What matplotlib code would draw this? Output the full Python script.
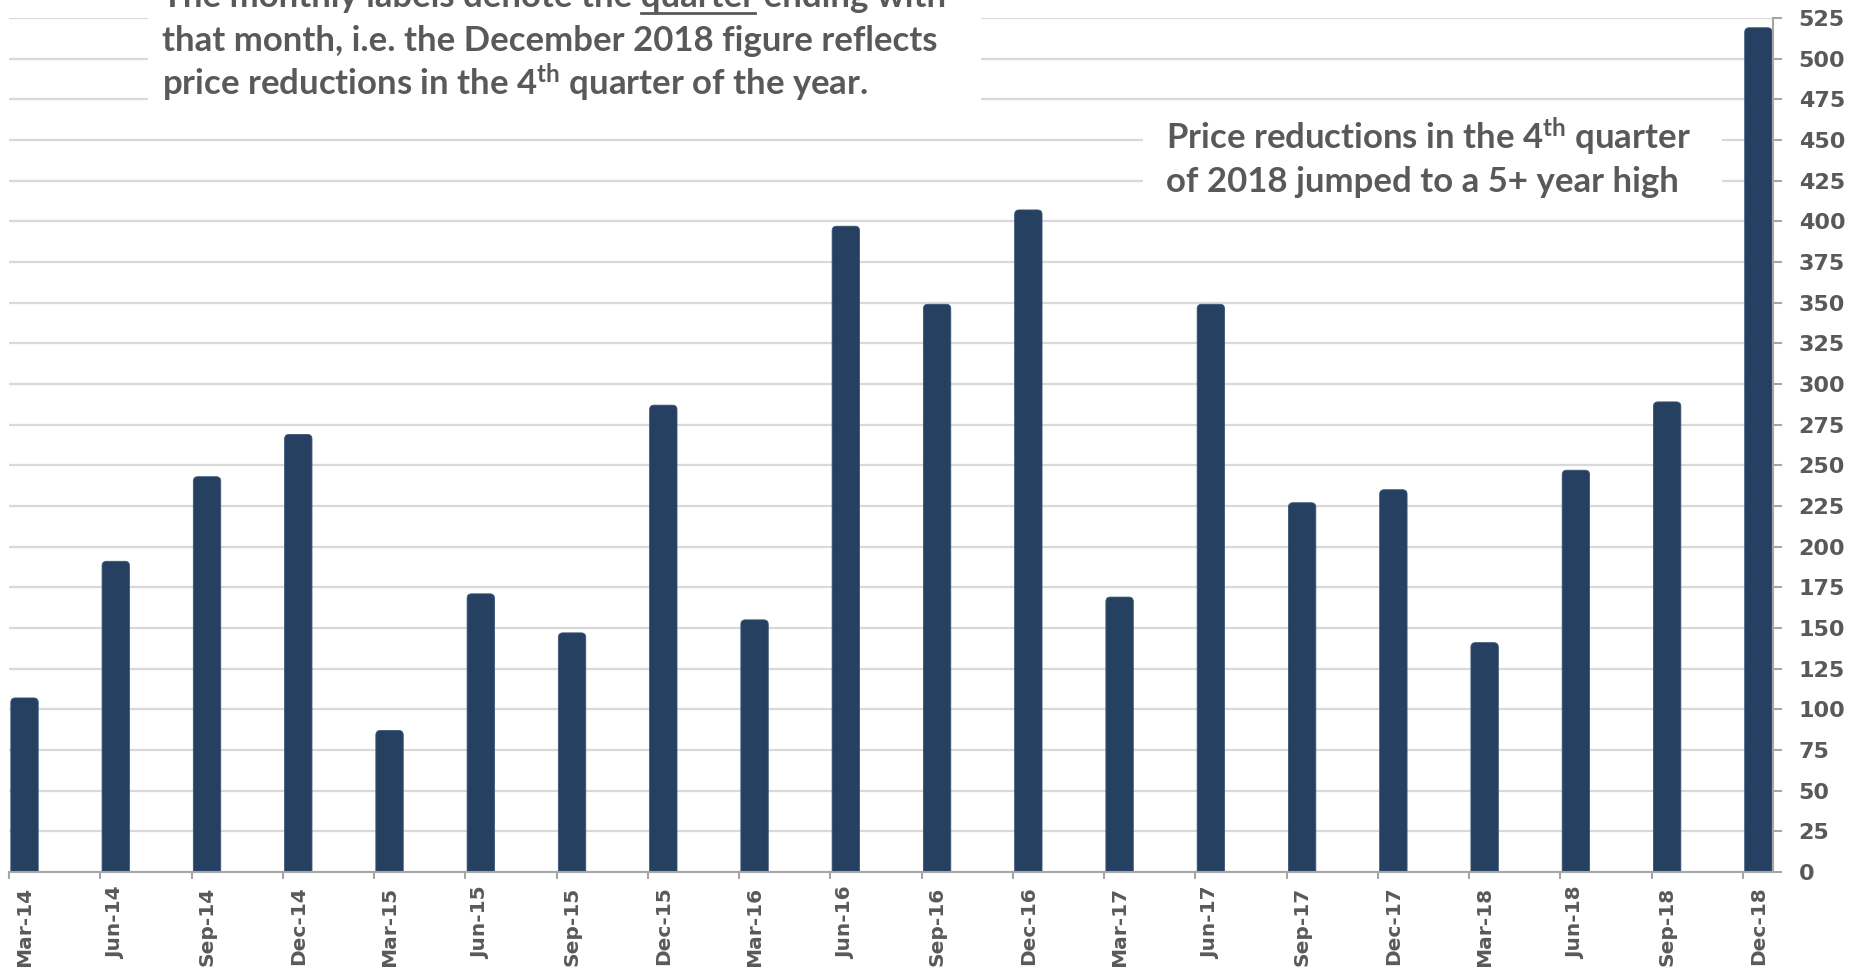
import matplotlib
matplotlib.use("Agg")
import matplotlib.pyplot as plt
from matplotlib.patches import Rectangle, FancyBboxPatch
from matplotlib.lines import Line2D
import numpy as np

# ---- data -------------------------------------------------------------
quarters = ["Mar-14", "Jun-14", "Sep-14", "Dec-14",
            "Mar-15", "Jun-15", "Sep-15", "Dec-15",
            "Mar-16", "Jun-16", "Sep-16", "Dec-16",
            "Mar-17", "Jun-17", "Sep-17", "Dec-17",
            "Mar-18", "Jun-18", "Sep-18", "Dec-18"]
price_reductions = [107, 191, 243, 269, 87, 171, 147, 287, 155, 397,
                    349, 407, 169, 349, 227, 235, 141, 247, 289, 519]
y_ticks = list(range(0, 526, 25))

note_lines = ["The monthly labels denote the quarter ending with",
              "that month, i.e. the December 2018 figure reflects",
              "price reductions in the 4$^{\\mathrm{th}}$ quarter of the year."]
underlined_word = "quarter"
callout_lines = ["Price reductions in the 4$^{\\mathrm{th}}$ quarter",
                 "of 2018 jumped to a 5+ year high"]

# ---- style ------------------------------------------------------------
BAR = "#264061"
TXT = "#595959"
AXIS = "#A6A6A6"
GRID = "#D9D9D9"

plt.rcParams["font.family"] = ["DejaVu Sans"]
plt.rcParams["font.weight"] = "bold"
plt.rcParams["mathtext.fontset"] = "custom"
plt.rcParams["mathtext.rm"] = "Lato:bold"
plt.rcParams["mathtext.it"] = "Lato:bold"
plt.rcParams["mathtext.bf"] = "Lato:bold"

W, H = 1856, 967
fig = plt.figure(figsize=(W / 100, H / 100), dpi=100)
fig.patch.set_facecolor("white")

ax_left, ax_right, ax_top, ax_bot = 9, 1773, 18, 872
ax = fig.add_axes([ax_left / W, 1 - ax_bot / H,
                   (ax_right - ax_left) / W, (ax_bot - ax_top) / H])

n = len(quarters)
x = np.arange(n)
bar_off, bar_w = 0.02, 0.30

ax.set_xlim(0, n - 1 + 0.33)
ax.set_ylim(0, 525)

# bars with slightly rounded tops
bars = ax.bar(x + bar_off, price_reductions, width=bar_w, align="edge",
              color=BAR, zorder=2)
fig.canvas.draw()
px_x = ax.transData.transform((1, 0))[0] - ax.transData.transform((0, 0))[0]
px_y = ax.transData.transform((0, 1))[1] - ax.transData.transform((0, 0))[1]
r_px = 4.5
for rect in bars:
    x0, w, h = rect.get_x(), rect.get_width(), rect.get_height()
    rect.set_visible(False)
    ext = r_px / px_y
    fb = FancyBboxPatch((x0, -ext), w, h + ext,
                        boxstyle=f"round,pad=0,rounding_size={r_px / px_x}",
                        mutation_aspect=px_x / px_y,
                        facecolor=BAR, edgecolor="#3A5474", linewidth=0.6,
                        zorder=2)
    ax.add_patch(fb)

# axes
tick_font = dict(family=["DejaVu Sans"], weight="bold")
ax.set_xticks(x)
ax.set_xticklabels([""] * n)
ax.set_xticks(x + bar_off + bar_w / 2, minor=True)
ax.set_xticklabels(quarters, minor=True, rotation=90, **tick_font)
ax.tick_params(axis="x", which="major", length=5, width=1.5, color=AXIS,
               direction="out")
ax.tick_params(axis="x", which="minor", length=0, pad=10.5, labelsize=14.5,
               labelcolor=TXT)

ax.yaxis.tick_right()
ax.set_yticks(y_ticks)
ax.set_yticklabels([str(v) for v in y_ticks], **tick_font)
ax.tick_params(axis="y", length=6.5, width=1.5, color=AXIS, pad=12,
               labelsize=16, labelcolor=TXT)

ax.yaxis.grid(True, color=GRID, linewidth=1.6)
ax.set_axisbelow(True)
for side in ("left", "top"):
    ax.spines[side].set_visible(False)
for side in ("right", "bottom"):
    ax.spines[side].set_color(AXIS)
    ax.spines[side].set_linewidth(1.5)

# white panels behind the notes
def px_rect(x0, y0, x1, y1):
    return Rectangle((x0 / W, 1 - y1 / H), (x1 - x0) / W, (y1 - y0) / H,
                     transform=fig.transFigure, facecolor="white",
                     edgecolor="none", zorder=1.5, clip_on=False)

ax.add_patch(px_rect(148, -5, 981, 118))
ax.add_patch(px_rect(1143, 108, 1722, 205))

note_font = dict(family=["Lato", "DejaVu Sans"], weight="bold", size=25,
                 color=TXT)
renderer = fig.canvas.get_renderer()


def text_width(s):
    t = fig.text(0, 0, s, **note_font)
    w = t.get_window_extent(renderer).width
    t.remove()
    return w


note_x = 162
note_base = [7, 51, 95]
for line, b in zip(note_lines, note_base):
    fig.text(note_x / W, 1 - b / H, line, va="baseline", ha="left",
             zorder=5, **note_font)

# underline the key word of the first line
prefix = note_lines[0].split(underlined_word)[0].rstrip()
space = text_width("x x") - text_width("xx")
u0 = note_x + text_width(prefix) + space
u1 = u0 + text_width(underlined_word)
fig.add_artist(Line2D([u0 / W, u1 / W], [1 - 13 / H, 1 - 13 / H],
                      transform=fig.transFigure, color=TXT, linewidth=2,
                      zorder=5))

callout_x = 1166
callout_base = [149, 192]
for line, b in zip(callout_lines, callout_base):
    fig.text(callout_x / W, 1 - b / H, line, va="baseline", ha="left",
             zorder=5, **note_font)

fig.savefig("out.png", dpi=100, facecolor="white")
